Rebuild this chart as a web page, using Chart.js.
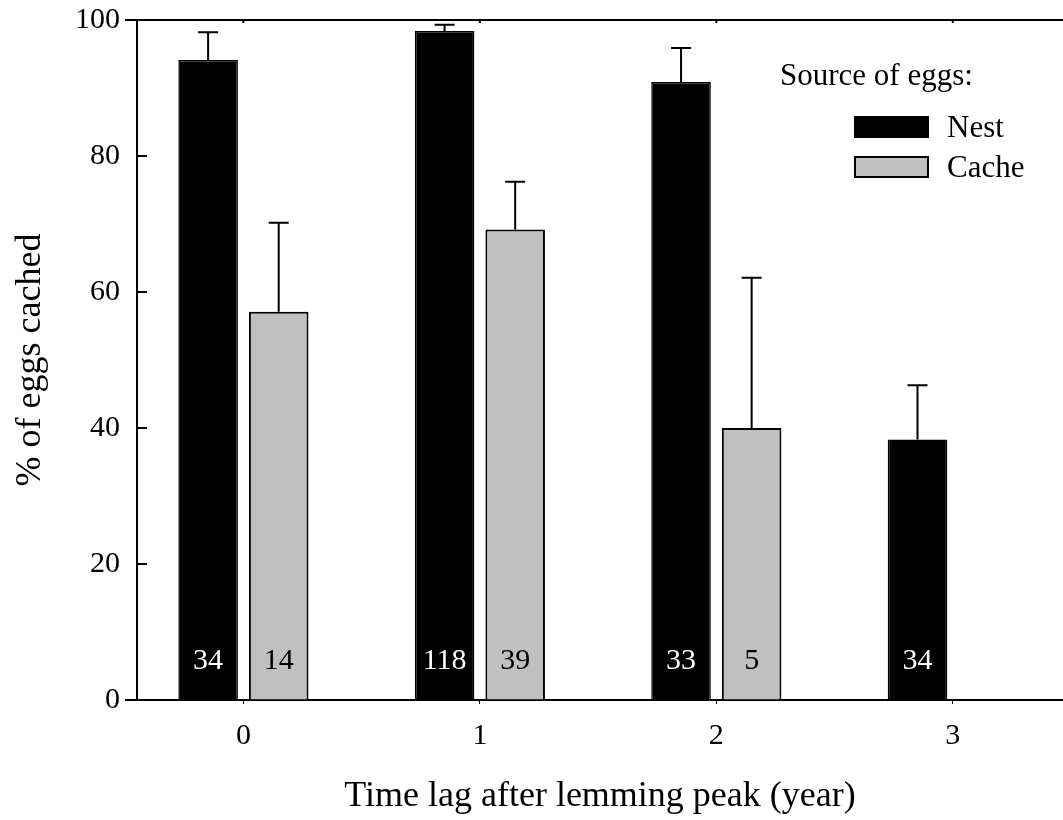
<!DOCTYPE html>
<html>
<head>
<meta charset="utf-8">
<script src="https://cdn.jsdelivr.net/npm/chart.js@4.4.1/dist/chart.umd.min.js"></script>
<style>
  html, body { margin: 0; padding: 0; background: #fff; }
  #wrap { width: 1063px; height: 820px; position: relative; }
</style>
</head>
<body>
<div id="wrap"><canvas id="c" width="1063" height="820"></canvas></div>
<script>
// ---- data ----
const categories = [0, 1, 2, 3];              // time lag (years)
const nestValues = [94.1, 98.4, 90.9, 38.3];  // % cached, eggs from nest
const nestErr    = [4.1, 0.9, 5.0, 8.0];      // upper error
const nestN      = [34, 118, 33, 34];         // sample sizes
const cacheValues = [57.1, 69.2, 40.0, null]; // % cached, eggs from cache
const cacheErr    = [13.1, 7.0, 22.1, null];
const cacheN      = [14, 39, 5, null];
const yTicks = [0, 20, 40, 60, 80, 100];
const seriesLabels = ['Nest', 'Cache'];
const legendTitle = 'Source of eggs:';
const xTitle = 'Time lag after lemming peak (year)';
const yTitle = '% of eggs cached';

const FONT = "'Liberation Serif', 'Times New Roman', serif";

function toPoints(vals) {
  return categories.map((c, i) => ({ x: c, y: vals[i] })).filter(p => p.y !== null);
}

const errs = [nestErr, cacheErr];
const counts = [nestN, cacheN];
const countColors = ['#ffffff', '#000000'];

const decorPlugin = {
  id: 'decor',
  afterDatasetsDraw(chart) {
    const ctx = chart.ctx;
    const ys = chart.scales.y, xs = chart.scales.x;
    const area = chart.chartArea;
    ctx.save();
    // error bars
    chart.data.datasets.forEach((ds, di) => {
      const meta = chart.getDatasetMeta(di);
      meta.data.forEach((el, j) => {
        const pt = ds.data[j];
        const idx = categories.indexOf(pt.x);
        const e = errs[di][idx];
        if (e === null || e === undefined) return;
        const yTop = ys.getPixelForValue(pt.y + e);
        ctx.strokeStyle = '#000';
        ctx.lineWidth = 2;
        ctx.beginPath();
        ctx.moveTo(el.x, el.y);
        ctx.lineTo(el.x, yTop);
        ctx.moveTo(el.x - 10, yTop);
        ctx.lineTo(el.x + 10, yTop);
        ctx.stroke();
        // sample sizes
        const n = counts[di][idx];
        if (n !== null) {
          ctx.fillStyle = countColors[di];
          ctx.font = '30px ' + FONT;
          ctx.textAlign = 'center';
          ctx.textBaseline = 'alphabetic';
          ctx.fillText(String(n), el.x, 669);
        }
      });
    });
    // frame: top line, left extensions, inward y ticks, top x ticks
    ctx.strokeStyle = '#000';
    ctx.lineWidth = 2;
    ctx.beginPath();
    ctx.moveTo(area.left - 12, area.top);
    ctx.lineTo(area.right, area.top);
    ctx.moveTo(area.left - 12, area.bottom);
    ctx.lineTo(area.left, area.bottom);
    yTicks.forEach(v => {
      const p = ys.getPixelForValue(v);
      ctx.moveTo(area.left, p);
      ctx.lineTo(area.left + 10, p);
    });
    categories.forEach(c => {
      const p = xs.getPixelForValue(c);
      ctx.moveTo(p, area.top);
      ctx.lineTo(p, area.top + 3);
    });
    ctx.stroke();
    // legend
    ctx.font = '31px ' + FONT;
    ctx.fillStyle = '#000';
    ctx.textAlign = 'left';
    ctx.textBaseline = 'alphabetic';
    ctx.fillText(legendTitle, 780, 85);
    chart.data.datasets.forEach((ds, di) => {
      const by = 117 + di * 40;
      ctx.fillStyle = ds.backgroundColor;
      ctx.fillRect(855, by, 73, 20);
      ctx.lineWidth = 2;
      ctx.strokeStyle = '#000';
      ctx.strokeRect(855, by, 73, 20);
      ctx.fillStyle = '#000';
      ctx.fillText(ds.label, 947, by + 20);
    });
    ctx.restore();
  }
};

new Chart(document.getElementById('c'), {
  type: 'bar',
  data: {
    datasets: [
      {
        label: seriesLabels[0],
        data: toPoints(nestValues),
        backgroundColor: '#000000',
        borderColor: '#000000',
        borderWidth: 1.5,
        categoryPercentage: 0.597,
        barPercentage: 0.844
      },
      {
        label: seriesLabels[1],
        data: toPoints(cacheValues),
        backgroundColor: '#c0c0c0',
        borderColor: '#000000',
        borderWidth: 2,
        categoryPercentage: 0.597,
        barPercentage: 0.844
      }
    ]
  },
  options: {
    responsive: false,
    animation: false,
    layout: { padding: { top: 20, right: 0, left: 0, bottom: 0 } },
    plugins: { legend: { display: false }, tooltip: { enabled: false } },
    scales: {
      x: {
        type: 'linear',
        min: -0.45,
        max: 3.466,
        offset: false,
        afterFit(scale) { scale.height = 120; scale.paddingLeft = 0; scale.paddingRight = 0; },
        afterBuildTicks(scale) { scale.ticks = categories.map(v => ({ value: v })); },
        grid: { display: true, drawOnChartArea: false, drawTicks: true, tickLength: 4, color: '#000', offset: false },
        border: { display: true, color: '#000', width: 2 },
        ticks: {
          color: '#000',
          font: { family: FONT, size: 30 },
          padding: 14,
          maxRotation: 0,
          autoSkip: false,
          callback: v => String(v)
        },
        title: {
          display: true,
          text: xTitle,
          color: '#000',
          font: { family: FONT, size: 36 },
          padding: { top: 0, bottom: 2 }
        }
      },
      y: {
        min: 0,
        max: 100,
        afterFit(scale) { scale.width = 137; scale.paddingTop = 0; scale.paddingBottom = 0; },
        afterBuildTicks(scale) { scale.ticks = yTicks.map(v => ({ value: v })); },
        grid: { display: true, drawOnChartArea: false, drawTicks: false },
        border: { display: true, color: '#000', width: 2 },
        ticks: {
          color: '#000',
          font: { family: FONT, size: 30 },
          padding: 17,
          callback: v => String(v)
        },
        title: {
          display: true,
          text: yTitle,
          color: '#000',
          font: { family: FONT, size: 36 },
          padding: { top: 9, bottom: 0 }
        }
      }
    }
  },
  plugins: [decorPlugin]
});
</script>
</body>
</html>
